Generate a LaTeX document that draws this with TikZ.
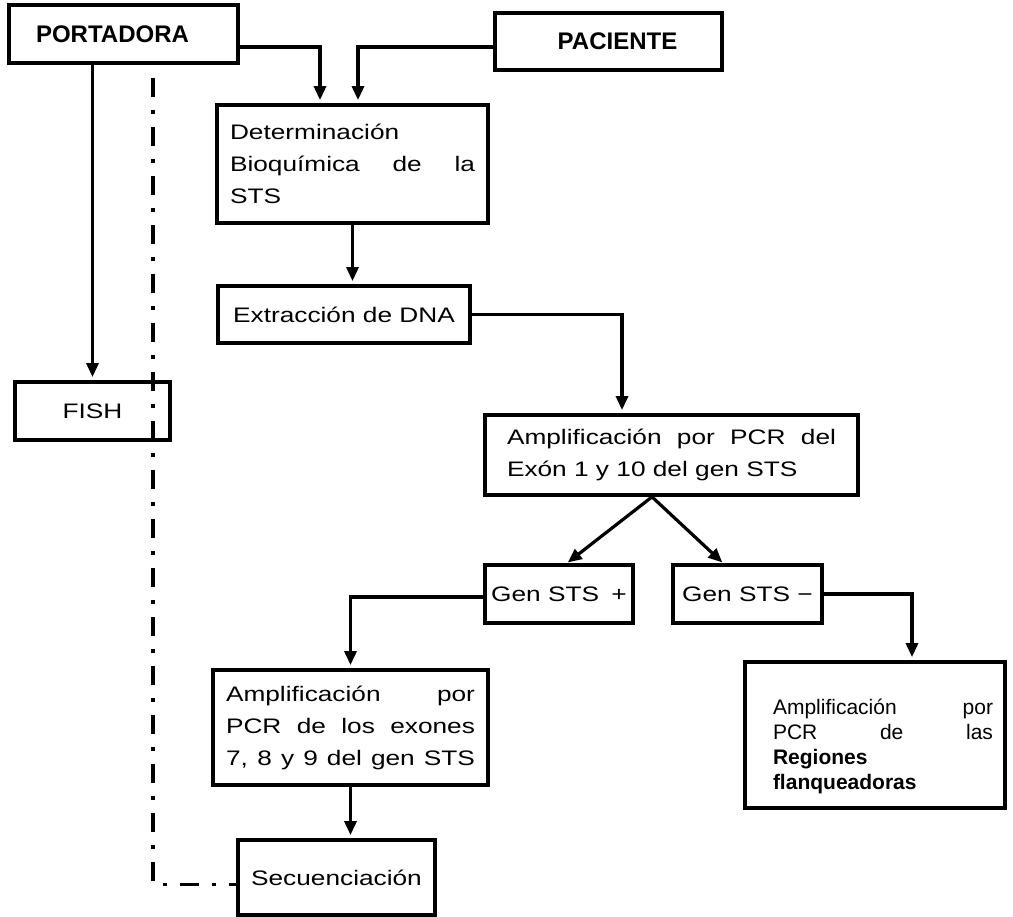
\documentclass[tikz,border=0pt]{standalone}
\usepackage{fontspec}
\setmainfont{Liberation Sans}
\newfontfamily\widefont{Liberation Sans}[FakeStretch=1.25]
\usetikzlibrary{arrows.meta,calc}
\newcommand{\jline}[2]{\makebox[#1][s]{#2}}
\begin{document}
\begin{tikzpicture}[x=1pt,y=-1pt,
  box/.style={draw, line width=3.8pt, rectangle, inner sep=0pt, align=left,
    font=\widefont\fontsize{21}{32}\selectfont},
  title/.style={font=\fontsize{24}{28}\selectfont\bfseries},
  tighttext/.style={font=\fontsize{21}{25}\selectfont},
  arr/.style={line width=3.2pt, -{Triangle[width=12pt,length=14pt]}, shorten >=3pt},
  dashdotline/.style={line width=3.5pt, dash pattern=on 19pt off 13pt on 4pt off 13pt}]
\fill[white] (0,0) rectangle (1013,917);
\useasboundingbox (0,0) rectangle (1013,917);

% boxes
\node[box, title, minimum width=229pt, minimum height=58pt] (por) at (123.5,34) {PORTADORA\hspace*{22pt}};
\node[box, title, minimum width=227pt, minimum height=57pt] (pac) at (608.5,41.5) {\hspace*{18pt}PACIENTE};
\node[box, minimum width=271pt, minimum height=118pt] (det) at (352.5,164)
  {Determinación\\ \jline{245pt}{Bioquímica de la}\\ STS};
\node[box, minimum width=252pt, minimum height=57pt] (ext) at (344,314.5) {Extracción de DNA};
\node[box, minimum width=155pt, minimum height=58pt] (fish) at (92.5,411) {FISH};
\node[box, minimum width=373pt, minimum height=80pt] (amp1) at (671.5,455)
  {\jline{329pt}{Amplificación por PCR del}\\ Exón 1 y 10 del gen STS};
\node[box, minimum width=148pt, minimum height=58pt] (gp) at (559,594) {Gen STS\hspace{5pt} +};
\node[box, minimum width=149pt, minimum height=58pt] (gm) at (747.5,594) {Gen STS −};
\node[box, minimum width=275pt, minimum height=115pt] (amp2) at (350.5,727.5)
  {\jline{249pt}{Amplificación por}\\ \jline{249pt}{PCR de los exones}\\ \jline{249pt}{7, 8 y 9 del gen STS}};
\node[box, tighttext, minimum width=260pt, minimum height=146pt] (amp3) at (875,735)
  {\rule{0pt}{39pt}\hspace*{16pt}\jline{220pt}{Amplificación por}\\ \hspace*{16pt}\jline{220pt}{PCR de las}\\ \hspace*{16pt}\textbf{Regiones}\\ \hspace*{16pt}\textbf{flanqueadoras}};
\node[box, minimum width=197pt, minimum height=75pt] (sec) at (336.5,877.5) {Secuenciación};

% connectors
\coordinate (k1) at (320,47);
\coordinate (k2) at (358,47);
\coordinate (k3) at (622,317);
\coordinate (dd) at (153,78);
\draw[arr] ([yshift=-13pt]por.east) -- (k1) -- (k1 |- det.north);
\draw[arr] ([yshift=-5.5pt]pac.west) -- (k2) -- (k2 |- det.north);
\draw[arr] (det.south) -- (det.south |- ext.north);
\draw[arr] (ext.east) -| (k3 |- amp1.north);
\draw[arr, shorten >=1pt] ([xshift=-19.5pt]amp1.south) -- ([xshift=8pt]gp.north);
\draw[arr, shorten >=1pt] ([xshift=-19.5pt]amp1.south) -- ([xshift=-24.5pt]gm.north);
\draw[arr] ([yshift=-3pt]gp.west) -| (amp2.north);
\draw[arr] (gm.east) -| ([xshift=37pt]amp3.north);
\draw[arr] (amp2.south) -- (amp2.south |- sec.north);
\draw[arr] (por.south -| fish.north) -- (fish.north);
\draw[dashdotline] (dd) |- ([yshift=-7pt]sec.west);
\end{tikzpicture}
\end{document}
